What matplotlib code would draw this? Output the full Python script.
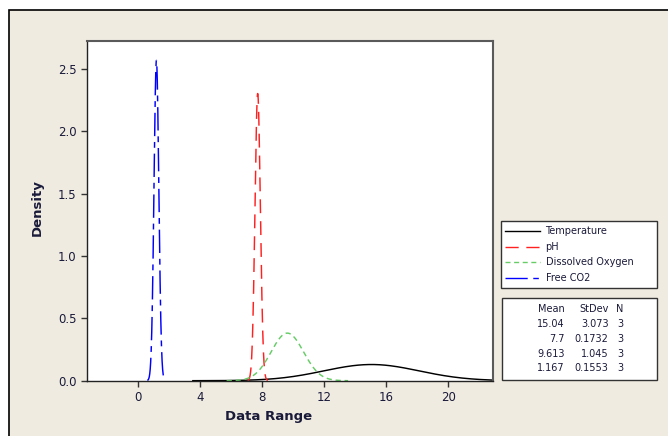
import numpy as np
import matplotlib
matplotlib.use("Agg")
import matplotlib.pyplot as plt
from matplotlib.patches import Rectangle

series = ["Temperature", "pH", "Dissolved Oxygen", "Free CO2"]
means = [15.04, 7.7, 9.613, 1.167]
stdevs = [3.073, 0.1732, 1.045, 0.1553]
counts = [3, 3, 3, 3]
mean_labels = ["15.04", "7.7", "9.613", "1.167"]
sd_labels = ["3.073", "0.1732", "1.045", "0.1553"]

x_ticks = [0, 4, 8, 12, 16, 20]
y_ticks = [0.0, 0.5, 1.0, 1.5, 2.0, 2.5]

# ---- styles ----
colors = ["#000000", "#FF2020", "#66CC66", "#0000FF"]
dashes = [None, (9.5, 5.5), (3.6, 2.6), (16, 4, 4, 4)]
BG = "#EFEBE1"
TXT = "#1A1A3A"

W, H = 668, 436
fig = plt.figure(figsize=(W / 100, H / 100), dpi=100, facecolor="white")

# overlay in pixel coordinates for frame, legend and table
ov = fig.add_axes([0, 0, 1, 1], zorder=0)
ov.set_xlim(0, W)
ov.set_ylim(H, 0)
ov.axis("off")
ov.add_patch(Rectangle((8.5, 10), W + 20, H + 20, facecolor=BG, edgecolor="black", lw=1.2))

ax = fig.add_axes([86.7 / W, 1 - 380.7 / H, (493 - 86.7) / W, (380.7 - 40.7) / H], zorder=2)
ax.set_facecolor("white")


def normal_pdf(x, m, s):
    return np.exp(-0.5 * ((x - m) / s) ** 2) / (s * np.sqrt(2 * np.pi))


for name, m, s, c, d in zip(series, means, stdevs, colors, dashes):
    x = np.linspace(m - 3.75 * s, m + 3.75 * s, 200)
    line, = ax.plot(x, normal_pdf(x, m, s), color=c, lw=1.05, label=name)
    if d is not None:
        line.set_dashes(d)

ax.set_xlim(-3.33, 22.88)
ax.set_ylim(0, 2.727)
ax.set_xticks(x_ticks)
ax.set_yticks(y_ticks)
ax.set_yticklabels([f"{v:.1f}" for v in y_ticks])
ax.tick_params(direction="out", length=4.5, width=1, colors="#333333",
               labelcolor=TXT, labelsize=8.5, pad=3)
for side in ["left", "bottom"]:
    ax.spines[side].set_color("#222222")
    ax.spines[side].set_linewidth(1.0)
for side in ["top", "right"]:
    ax.spines[side].set_color("#5a5a5a")
    ax.spines[side].set_linewidth(1.5)

fig.text(37.5 / W, 1 - 208 / H, "Density", rotation=90, ha="center", va="center",
         fontsize=9.5, fontweight="bold", color=TXT)
fig.text(269 / W, 1 - 416 / H, "Data Range", ha="center", va="center",
         fontsize=9.5, fontweight="bold", color=TXT)

# legend box
ov.add_patch(Rectangle((500.7, 220.7), 156, 67, facecolor="white", edgecolor="#333333", lw=1.0, zorder=3))
for i, (name, c, d) in enumerate(zip(series, colors, dashes)):
    yy = 230.7 + i * 15.8
    ln, = ov.plot([505, 540], [yy, yy], color=c, lw=1.0, zorder=4)
    if d is not None:
        ln.set_dashes(d)
    ov.text(545.5, yy, name, fontsize=7, color=TXT, ha="left", va="center", zorder=4)

# stats table box
ov.add_patch(Rectangle((502, 297.7), 155, 82.3, facecolor="white", edgecolor="#333333", lw=1.0, zorder=3))
ov.text(564.5, 309.3, "Mean", fontsize=7, color=TXT, ha="right", va="center", zorder=4)
ov.text(608.5, 309.3, "StDev", fontsize=7, color=TXT, ha="right", va="center", zorder=4)
ov.text(623.5, 309.3, "N", fontsize=7, color=TXT, ha="right", va="center", zorder=4)
for i in range(len(series)):
    yy = 324.3 + i * 14.7
    ov.text(564.5, yy, mean_labels[i], fontsize=7, color=TXT, ha="right", va="center", zorder=4)
    ov.text(608.5, yy, sd_labels[i], fontsize=7, color=TXT, ha="right", va="center", zorder=4)
    ov.text(623.5, yy, str(counts[i]), fontsize=7, color=TXT, ha="right", va="center", zorder=4)

fig.savefig("out.png", dpi=100, facecolor="white")
